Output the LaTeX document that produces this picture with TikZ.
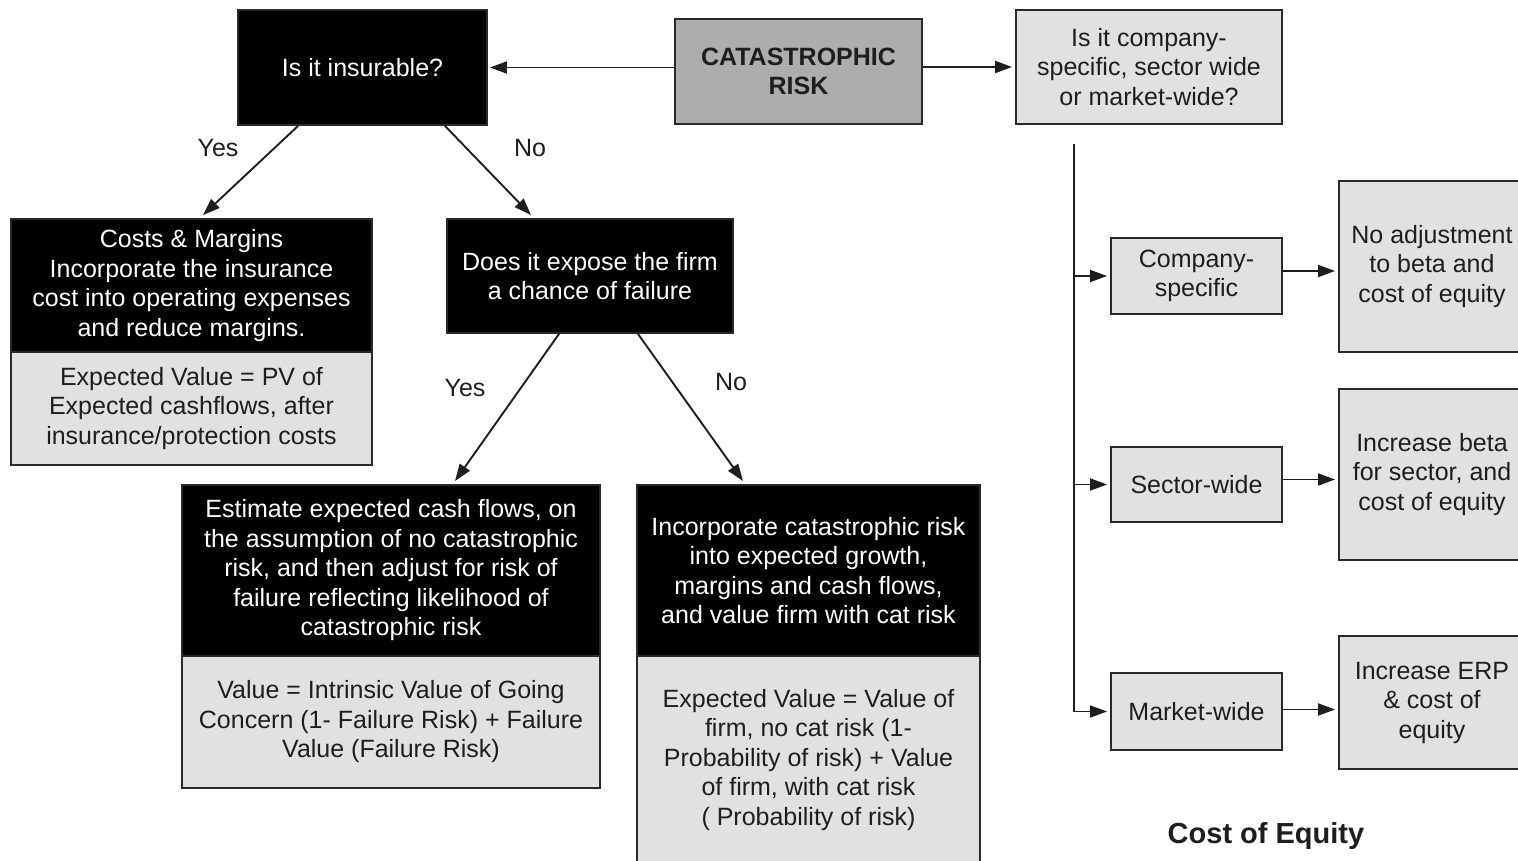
\documentclass[tikz,border=0pt]{standalone}
\usepackage{fontspec}
\setmainfont{Liberation Sans}
\usetikzlibrary{arrows.meta,calc}
\definecolor{lightbox}{HTML}{E1E1E1}
\definecolor{midbox}{HTML}{ADADAD}
\definecolor{edgecol}{HTML}{2A2A2A}
\definecolor{txt}{HTML}{1E1E1E}
\begin{document}
\begin{tikzpicture}[x=1pt,y=-1pt,
  box/.style={draw=edgecol, line width=1.9pt, inner sep=0pt, align=center, font=\fontsize{25}{29.5}\selectfont},
  dark/.style={box, fill=black, text=white},
  light/.style={box, fill=lightbox, text=txt},
  mid/.style={box, fill=midbox, text=txt, font=\fontsize{25}{29.5}\selectfont\bfseries},
  arr/.style={-{Triangle[length=17pt,width=12pt]}, line width=1.9pt, draw=txt},
  lbl/.style={font=\fontsize{25}{29.5}\selectfont, text=txt, inner sep=0pt}]
\useasboundingbox (0,0) rectangle (1518,861);
\fill[white] (0,0) rectangle (1518,861);

% top row
\node[dark, minimum width=249pt, minimum height=115pt] (ins) at (362.5,67.5) {Is it insurable?};
\node[mid, minimum width=247pt, minimum height=105pt] (cat) at (798.5,71.5) {CATASTROPHIC\\RISK};
\node[light, minimum width=266pt, minimum height=114pt] (q) at (1149,67) {Is it company-\\specific, sector wide\\or market-wide?};

% left branch
\node[dark, minimum width=361pt, minimum height=133pt] (costsT) at (191.5,285.5) {Costs \& Margins\\Incorporate the insurance\\cost into operating expenses\\and reduce margins.};
\node[light, minimum width=361pt, minimum height=113pt] (costsB) at (191.5,408.5) {Expected Value = PV of\\Expected cashflows, after\\insurance/protection costs};

\node[dark, minimum width=286pt, minimum height=114pt] (exp) at (590,276) {Does it expose the firm\\a chance of failure};

\node[dark, minimum width=418pt, minimum height=171pt] (estT) at (391,570.5) {Estimate expected cash flows, on\\the assumption of no catastrophic\\risk, and then adjust for risk of\\failure reflecting likelihood of\\catastrophic risk};
\node[light, minimum width=418pt, minimum height=132pt] (estB) at (391,722) {Value = Intrinsic Value of Going\\Concern (1- Failure Risk) + Failure\\Value (Failure Risk)};

\node[dark, minimum width=343pt, minimum height=171pt] (incT) at (808.5,570.5) {Incorporate catastrophic risk\\into expected growth,\\margins and cash flows,\\and value firm with cat risk};
\node[light, minimum width=343pt, minimum height=208pt] (incB) at (808.5,760) {Expected Value = Value of\\firm, no cat risk (1-\\Probability of risk) + Value\\of firm, with cat risk\\( Probability of risk)};

% right side
\node[light, minimum width=171pt, minimum height=76pt] (cs) at (1196.5,276) {Company-\\specific};
\node[light, minimum width=171pt, minimum height=75pt] (sw) at (1196.5,484.5) {Sector-wide};
\node[light, minimum width=171pt, minimum height=77pt] (mw) at (1196.5,711.5) {Market-wide};

\node[light, minimum width=186pt, minimum height=171pt] (r1) at (1432,266.5) {No adjustment\\to beta and\\cost of equity};
\node[light, minimum width=186pt, minimum height=171pt] (r2) at (1432,474.5) {Increase beta\\for sector, and\\cost of equity};
\node[light, minimum width=186pt, minimum height=133pt] (r3) at (1432,702.5) {Increase ERP\\\& cost of\\equity};

\node[font=\fontsize{29}{34}\selectfont\bfseries, text=txt, inner sep=0pt] (coe) at (1266,836) {Cost of Equity};

% labels
\node[lbl] (y1) at (218,148) {Yes};
\node[lbl] (n1) at (530,148) {No};
\node[lbl] (y2) at (465,388) {Yes};
\node[lbl] (n2) at (731,382) {No};

% connectors
\draw[arr] (cat.west |- ins.east) -- ([xshift=2pt]ins.east);
\draw[arr] (cat.east |- q.west) -- ([xshift=-3pt]q.west);
\draw[arr] ([xshift=-64.5pt]ins.south) -- ([xshift=11.5pt,yshift=3pt]costsT.north);
\draw[arr] ([xshift=82.5pt]ins.south) -- ([xshift=-59pt,yshift=3pt]exp.north);
\draw[arr] ([xshift=-31pt]exp.south) -- ([xshift=64pt,yshift=3pt]estT.north);
\draw[arr] ([xshift=48pt]exp.south) -- ([xshift=-65.5pt,yshift=3pt]incT.north);

\coordinate (trunk) at ([xshift=-75pt,yshift=-19pt]q.south);
\draw[arr] (trunk) |- ([xshift=-3pt]mw.west);
\draw[arr] (trunk |- cs.west) -- ([xshift=-3pt]cs.west);
\draw[arr] (trunk |- sw.west) -- ([xshift=-3pt]sw.west);

\draw[arr] ([yshift=5pt]cs.east) -- ([yshift=5pt,xshift=-3pt]cs.east -| r1.west);
\draw[arr] ([yshift=5pt]sw.east) -- ([yshift=5pt,xshift=-3pt]sw.east -| r2.west);
\draw[arr] ([yshift=2pt]mw.east) -- ([yshift=2pt,xshift=-3pt]mw.east -| r3.west);
\end{tikzpicture}
\end{document}
